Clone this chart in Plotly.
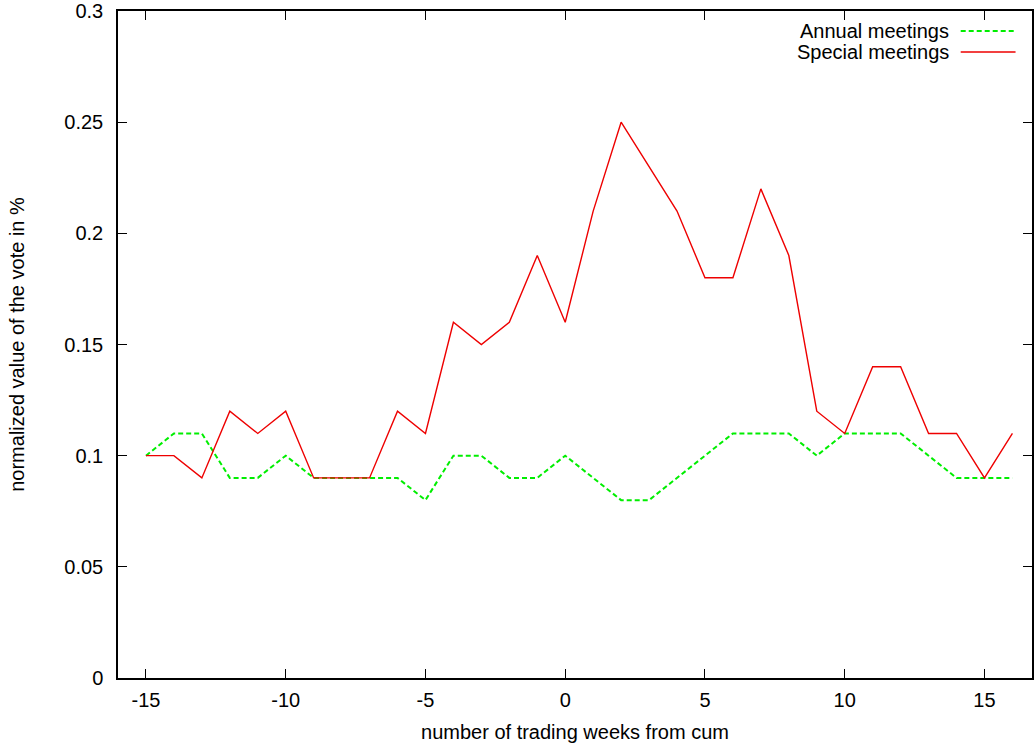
import plotly.graph_objects as go

# Weeks relative to the cum date
weeks = list(range(-15, 17))

# Normalized vote value (%) by meeting type
annual = [0.10, 0.11, 0.11, 0.09, 0.09, 0.10, 0.09, 0.09, 0.09, 0.09, 0.08,
          0.10, 0.10, 0.09, 0.09, 0.10, 0.09, 0.08, 0.08, 0.09, 0.10, 0.11,
          0.11, 0.11, 0.10, 0.11, 0.11, 0.11, 0.10, 0.09, 0.09, 0.09]
special = [0.10, 0.10, 0.09, 0.12, 0.11, 0.12, 0.09, 0.09, 0.09, 0.12, 0.11,
           0.16, 0.15, 0.16, 0.19, 0.16, 0.21, 0.25, 0.23, 0.21, 0.18, 0.18,
           0.22, 0.19, 0.12, 0.11, 0.14, 0.14, 0.11, 0.11, 0.09, 0.11]

x_ticks = [-15, -10, -5, 0, 5, 10, 15]
x_tick_text = ["-15", "-10", "-5", "0", "5", "10", "15"]
y_ticks = [0, 0.05, 0.1, 0.15, 0.2, 0.25, 0.3]
y_tick_text = ["0", "0.05", "0.1", "0.15", "0.2", "0.25", "0.3"]

series_names = ["Annual meetings", "Special meetings"]
green = "#00ee00"
red = "#ee0000"

FONT = "Liberation Sans, Arial, sans-serif"

fig = go.Figure()
fig.add_trace(go.Scatter(x=weeks, y=annual, mode="lines", name=series_names[0],
                         line=dict(color=green, width=2, dash="5px,3px"),
                         showlegend=False))
fig.add_trace(go.Scatter(x=weeks, y=special, mode="lines", name=series_names[1],
                         line=dict(color=red, width=1.4),
                         showlegend=False))

# Legend drawn as text + line samples at the upper right (text left of sample)
legend_rows = [(series_names[0], green, "5px,3px", 2, 0.970),
               (series_names[1], red, "solid", 1.4, 0.9386)]
for name, color, dash, width, yp in legend_rows:
    fig.add_annotation(x=0.911, y=yp, xref="paper", yref="paper", text=name,
                       showarrow=False, xanchor="right", yanchor="middle",
                       font=dict(size=20, color="black", family=FONT))
    fig.add_shape(type="line", xref="paper", yref="paper",
                  x0=0.922, x1=0.982, y0=yp, y1=yp,
                  line=dict(color=color, width=width, dash=dash))

axis_common = dict(showline=True, linecolor="black", linewidth=1.5, mirror="ticks",
                   ticks="inside", ticklen=9, tickwidth=1.2, tickcolor="black",
                   showgrid=False, zeroline=False, ticklabeloverflow="allow",
                   tickfont=dict(size=20, color="black", family=FONT))

fig.update_layout(
    width=1034, height=746,
    margin=dict(l=118, r=0, t=10, b=68),
    paper_bgcolor="white", plot_bgcolor="white",
    font=dict(family=FONT, size=20, color="black"),
    xaxis=dict(range=[-16, 16.7], tickvals=x_ticks, ticktext=x_tick_text,
               ticklabelstandoff=3,
               title=dict(text="number of trading weeks from cum", standoff=15,
                          font=dict(size=20, family=FONT)),
               **axis_common),
    yaxis=dict(range=[0, 0.300001], tickvals=y_ticks, ticktext=y_tick_text,
               ticklabelstandoff=9,
               title=dict(text="normalized value of the vote in %", standoff=34,
                          font=dict(size=20, family=FONT)),
               **axis_common),
)

fig.write_html("out.html")
